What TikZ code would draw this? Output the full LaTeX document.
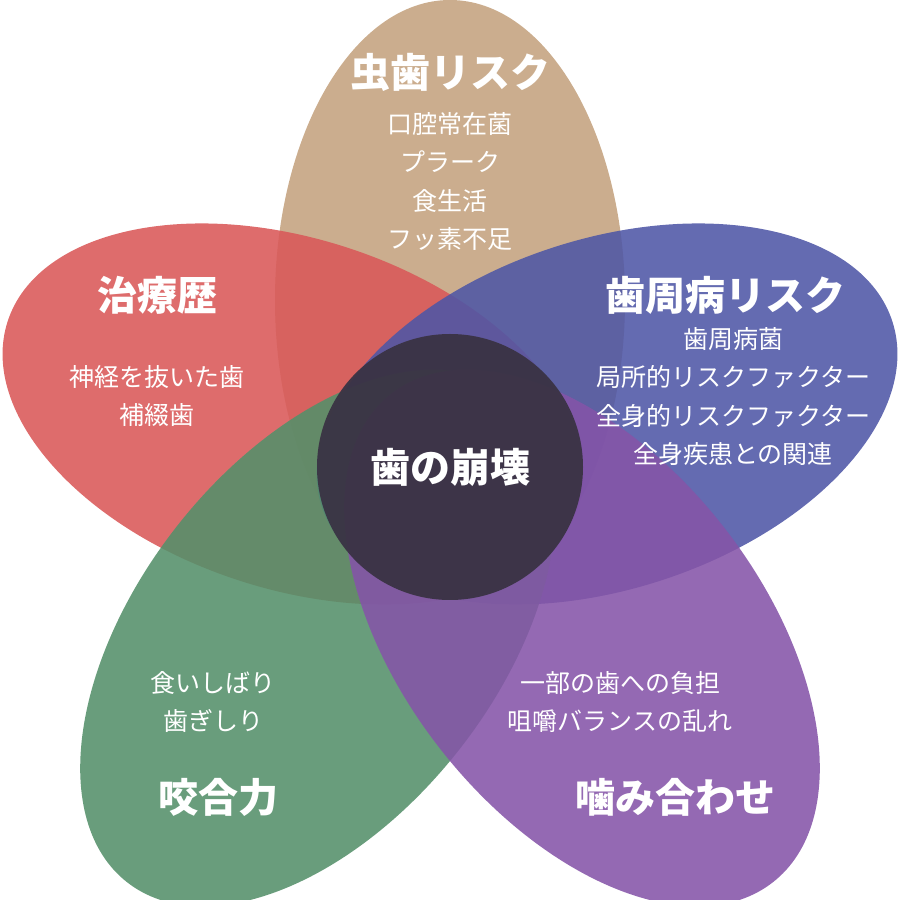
\documentclass[tikz,border=0pt]{standalone}
\usepackage{fontspec}
\setmainfont{Noto Sans CJK JP}
\begin{document}
\begin{tikzpicture}[x=1pt,y=1pt,
  petal/.style={fill=#1,fill opacity=0.88,draw=none},
  ttl/.style={text=white,font=\fontsize{40}{44}\selectfont\bfseries,inner sep=0},
  body/.style={text=white,font=\fontsize{25}{38.5}\selectfont,align=center,inner sep=0}]
\useasboundingbox (0,0) rectangle (900,900);
\definecolor{ctan}{HTML}{C4A27E}
\definecolor{cred}{HTML}{D95858}
\definecolor{cblue}{HTML}{4E56A6}
\definecolor{cgreen}{HTML}{54906A}
\definecolor{cpurple}{HTML}{8554A8}
\definecolor{ccen}{HTML}{3A3344}
\fill[petal=ctan] (450,600) ellipse [x radius=175,y radius=300];
\fill[petal=cred,rotate around={72:(293,486)}] (293,486) ellipse [x radius=175,y radius=300];
\fill[petal=cblue,rotate around={-72:(607,486)}] (607,486) ellipse [x radius=175,y radius=300];
\fill[petal=cgreen,rotate around={-38:(318,262)}] (318,262) ellipse [x radius=180,y radius=310];
\fill[petal=cpurple,rotate around={38:(582,262)}] (582,262) ellipse [x radius=180,y radius=310];
\fill[ccen,fill opacity=0.95] (450,433) circle [radius=133];
\node[ttl] (c) at (450,433) {歯の崩壊};
\node[ttl] (t1) at (450,828) {虫歯リスク};
\node[body,anchor=north] (b1) at (450,788) {口腔常在菌\\プラーク\\食生活\\フッ素不足};
\node[ttl] (t2) at (157,605) {治療歴};
\node[body,anchor=north] (b2) at (157,535) {神経を抜いた歯\\補綴歯};
\node[ttl] (t3) at (725,605) {歯周病リスク};
\node[body,anchor=north] (b3) at (733,573) {歯周病菌\\局所的リスクファクター\\全身的リスクファクター\\全身疾患との関連};
\node[body,anchor=north] (b4) at (213,229) {食いしばり\\歯ぎしり};
\node[ttl] (t4) at (218,103) {咬合力};
\node[body,anchor=north] (b5) at (620,229) {一部の歯への負担\\咀嚼バランスの乱れ};
\node[ttl] (t5) at (675,103) {噛み合わせ};
\end{tikzpicture}
\end{document}
